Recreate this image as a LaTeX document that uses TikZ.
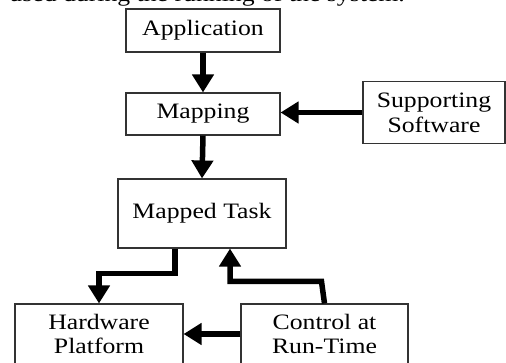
\documentclass[tikz,border=0pt]{standalone}
\usepackage{fontspec}
\setmainfont[FakeStretch=1.17]{Liberation Serif}
\usetikzlibrary{arrows.meta}
\tikzset{
  box/.style={draw=black!80,line width=1.1pt,align=center,inner sep=0pt,
    font=\fontsize{22}{24}\selectfont},
  flow/.style={line width=5.5pt,-{Triangle[length=18pt,width=21pt]}}
}
\begin{document}
\begin{tikzpicture}[x=1pt,y=-1pt]
\useasboundingbox (0,0) rectangle (506,363);
\clip (0,0) rectangle (506,363);
% caption line of the page above, cut off
\node[anchor=base east,inner sep=0pt,font=\fontsize{22}{23}\selectfont] (cap) at (405,2) {used during the running of the system.};
\node[box,minimum width=154pt,minimum height=43pt] (app) at (203,30.5) {Application};
\node[box,minimum width=154pt,minimum height=42pt] (map) at (203,114) {Mapping};
\node[box,minimum width=142pt,minimum height=62pt] (sup) at (434,112.5) {Supporting\\[1pt]Software};
\node[box,minimum width=168pt,minimum height=69pt] (task) at (202,213.5) {Mapped Task};
\node[box,minimum width=168pt,minimum height=60pt] (hw) at (99,334) {Hardware\\Platform};
\node[box,minimum width=167pt,minimum height=60pt] (ctl) at (324.5,334) {Control at\\Run-Time};
\draw[flow] (app.south) -- (map.north);
\draw[flow] (sup.west) -- (sup.west -| map.east);
\draw[flow] (map.south) -- (task.north);
\draw[flow,line join=miter] ([xshift=-27pt]task.south) -- ++(0,25) -| (hw.north);
\draw[flow,line join=miter] (ctl.north) -- ++(-3,-22) -| ([xshift=28pt]task.south);
\draw[flow] (ctl.west) -- (hw.east);
\end{tikzpicture}
\end{document}
